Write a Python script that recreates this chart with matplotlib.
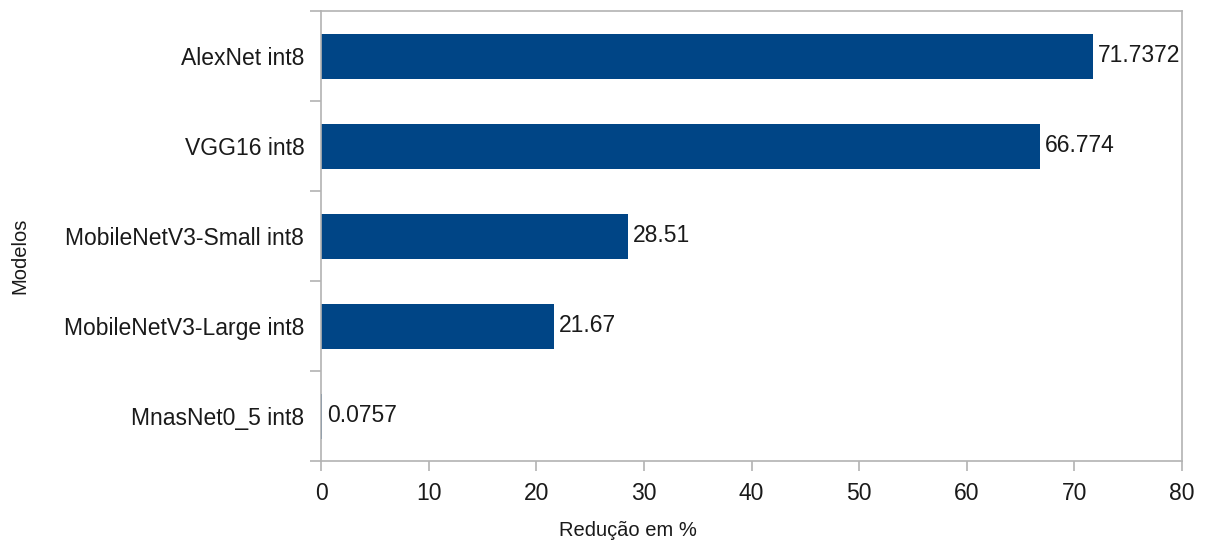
import matplotlib
matplotlib.use("Agg")
import matplotlib.pyplot as plt
import numpy as np

categories = ["AlexNet int8", "VGG16 int8", "MobileNetV3-Small int8",
              "MobileNetV3-Large int8", "MnasNet0_5 int8"]
values = [71.7372, 66.774, 28.51, 21.67, 0.0757]
value_labels = ["71.7372", "66.774", "28.51", "21.67", "0.0757"]
xticks = [0, 10, 20, 30, 40, 50, 60, 70, 80]

plt.rcParams['font.family'] = ['Liberation Sans', 'DejaVu Sans']

fig = plt.figure(figsize=(12.05, 5.43), dpi=100)
ax = fig.add_axes([321/1205, 1-461/543, (1182-321)/1205, (461-11)/543])

pos = np.arange(len(categories))
ax.barh(pos, values, height=0.5, color="#004586")
for p, v, lab in zip(pos, values, value_labels):
    ax.text(v + 0.45, p, lab, va="center", ha="left", fontsize=16.5, color="#1a1a1a")

ax.set_ylim(len(categories) - 0.5, -0.5)
ax.set_xlim(0, 80)
ax.set_xticks(xticks)
ax.set_xticklabels([str(t) for t in xticks], fontsize=16.5, color="#1a1a1a")
ax.set_yticks(np.arange(len(categories) + 1) - 0.5)
ax.set_yticklabels([])
ax.set_yticks(pos, minor=True)
ax.set_yticklabels(categories, minor=True, fontsize=16.5, color="#1a1a1a")
ax.tick_params(axis="y", which="minor", length=0, pad=12)
ax.tick_params(axis="y", which="major", length=8, width=1.2, color="#b3b3b3")
ax.tick_params(axis="x", which="major", length=7, width=1.2, color="#b3b3b3", pad=8)

for s in ax.spines.values():
    s.set_color("#b3b3b3")
    s.set_linewidth(1.2)

ax.set_xlabel("Redução em %", fontsize=14.5, color="#1a1a1a")
ax.xaxis.set_label_coords((628-321)/861, -(530-461)/450)
ax.xaxis.label.set_va("center")
ax.set_ylabel("Modelos", fontsize=14.5, color="#1a1a1a")
ax.yaxis.set_label_coords(-(321-20)/861, (461-256)/450)
ax.yaxis.label.set_va("center")

fig.savefig("out.png", dpi=100)
